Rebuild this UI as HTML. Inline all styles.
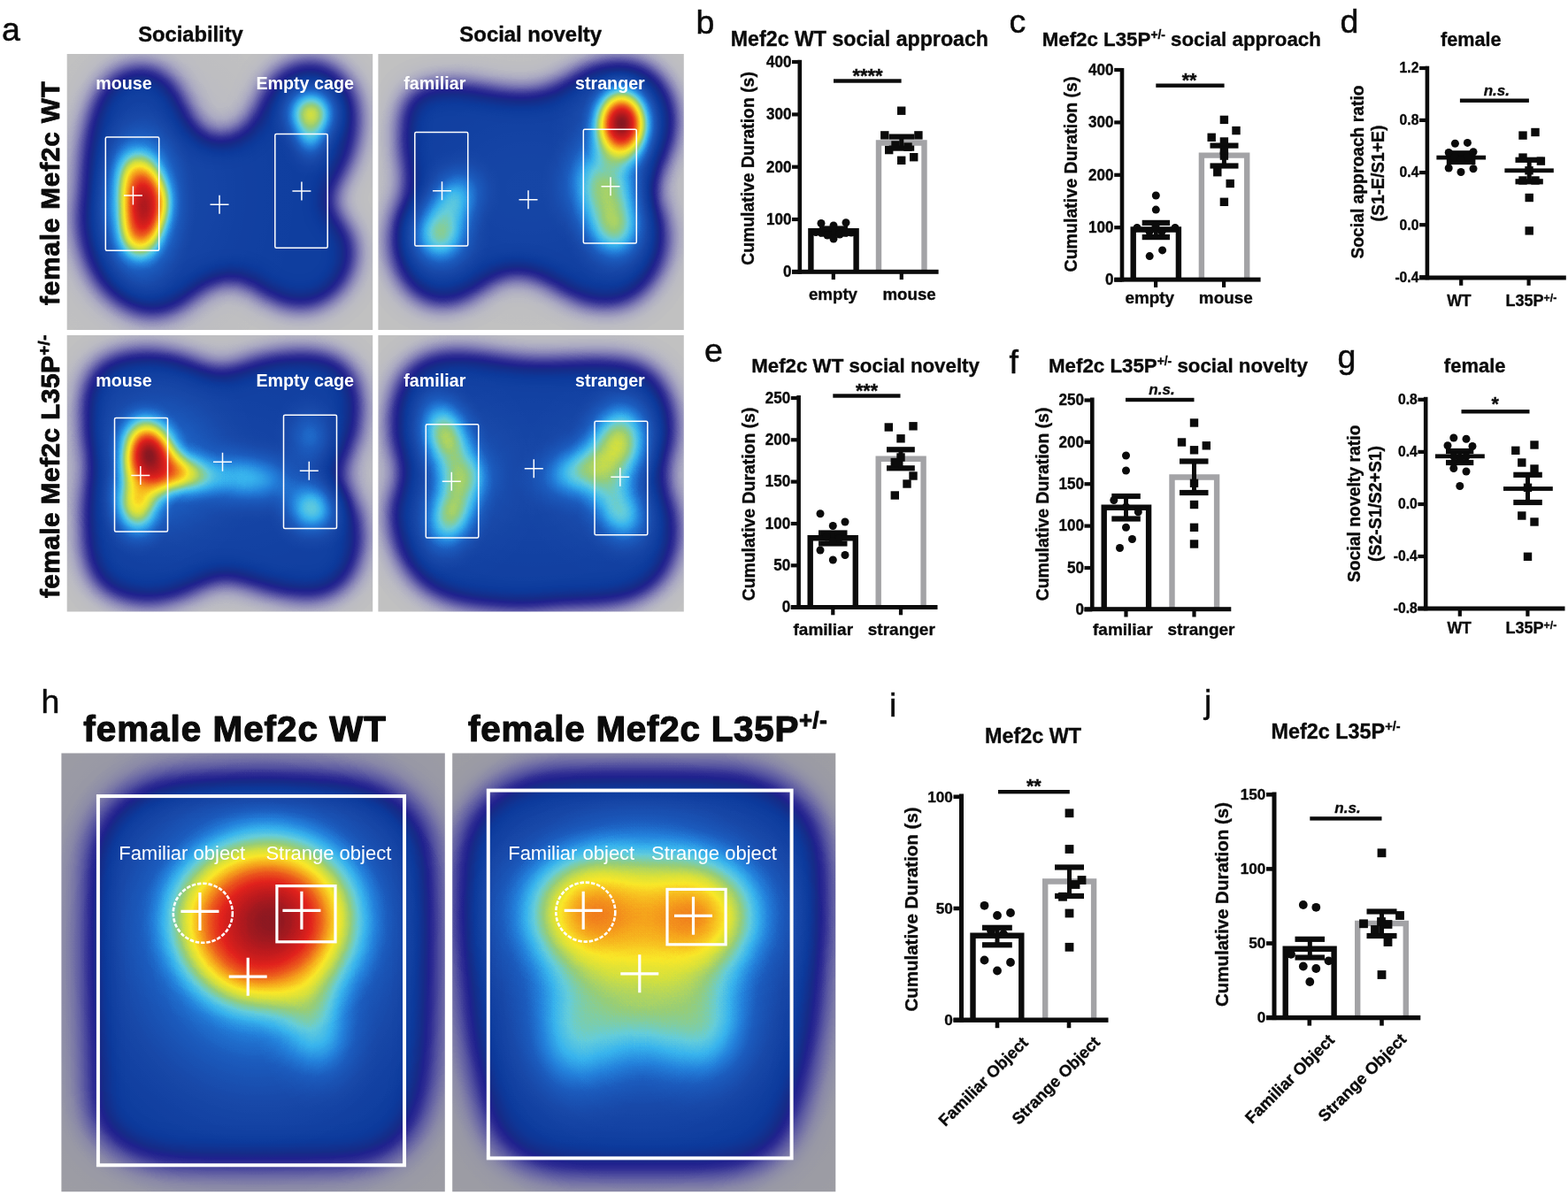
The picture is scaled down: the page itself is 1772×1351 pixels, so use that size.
<!DOCTYPE html>
<html lang="en"><head><meta charset="utf-8"><title>Figure</title>
<style>html,body{margin:0;padding:0;background:#fff}svg{display:block}text{font-family:"Liberation Sans",sans-serif}</style>
</head><body>
<svg width="1772" height="1351" viewBox="0 0 1772 1351">
<defs>
<filter id="jet" x="0" y="0" width="100%" height="100%" filterUnits="objectBoundingBox" color-interpolation-filters="sRGB"><feComponentTransfer><feFuncR type="table" tableValues="0.757 0.745 0.733 0.711 0.689 0.667 0.633 0.600 0.567 0.533 0.492 0.451 0.410 0.369 0.327 0.286 0.245 0.204 0.178 0.152 0.125 0.112 0.099 0.086 0.078 0.071 0.063 0.055 0.047 0.055 0.063 0.071 0.078 0.086 0.094 0.097 0.099 0.102 0.105 0.107 0.110 0.116 0.122 0.129 0.135 0.141 0.157 0.173 0.188 0.204 0.220 0.263 0.306 0.349 0.392 0.431 0.471 0.510 0.549 0.588 0.639 0.690 0.741 0.792 0.843 0.877 0.912 0.946 0.980 0.978 0.975 0.973 0.970 0.967 0.965 0.958 0.952 0.945 0.939 0.932 0.925 0.919 0.912 0.906 0.899 0.893 0.886 0.863 0.840 0.817 0.794 0.771 0.748 0.725 0.695 0.664 0.633 0.602 0.571 0.541 0.510"/><feFuncG type="table" tableValues="0.757 0.745 0.733 0.710 0.686 0.663 0.627 0.592 0.557 0.522 0.479 0.437 0.395 0.353 0.314 0.275 0.235 0.196 0.175 0.154 0.133 0.146 0.159 0.173 0.184 0.195 0.205 0.216 0.227 0.237 0.246 0.255 0.264 0.273 0.282 0.295 0.308 0.322 0.335 0.348 0.361 0.391 0.420 0.450 0.480 0.510 0.549 0.588 0.627 0.667 0.706 0.730 0.755 0.779 0.804 0.804 0.804 0.804 0.804 0.804 0.820 0.835 0.851 0.867 0.882 0.889 0.896 0.903 0.910 0.866 0.822 0.778 0.735 0.691 0.647 0.598 0.549 0.500 0.451 0.402 0.353 0.316 0.280 0.243 0.207 0.170 0.133 0.129 0.124 0.120 0.115 0.111 0.106 0.102 0.101 0.100 0.099 0.097 0.096 0.095 0.094"/><feFuncB type="table" tableValues="0.757 0.761 0.765 0.763 0.762 0.761 0.751 0.741 0.731 0.722 0.706 0.690 0.675 0.659 0.641 0.624 0.606 0.588 0.578 0.567 0.557 0.549 0.541 0.533 0.549 0.565 0.580 0.596 0.612 0.620 0.627 0.635 0.643 0.651 0.659 0.673 0.688 0.702 0.716 0.731 0.745 0.769 0.792 0.816 0.839 0.863 0.877 0.891 0.905 0.919 0.933 0.916 0.898 0.880 0.863 0.784 0.706 0.627 0.549 0.471 0.424 0.376 0.329 0.282 0.235 0.216 0.196 0.176 0.157 0.149 0.141 0.133 0.125 0.118 0.110 0.110 0.110 0.110 0.110 0.110 0.110 0.110 0.110 0.110 0.110 0.110 0.110 0.111 0.112 0.113 0.114 0.115 0.117 0.118 0.120 0.122 0.124 0.127 0.129 0.131 0.133"/></feComponentTransfer></filter>
<filter id="jet2" x="0" y="0" width="100%" height="100%" filterUnits="objectBoundingBox" color-interpolation-filters="sRGB"><feComponentTransfer><feFuncR type="table" tableValues="0.620 0.608 0.596 0.578 0.559 0.541 0.514 0.486 0.459 0.431 0.402 0.373 0.343 0.314 0.282 0.251 0.220 0.188 0.167 0.146 0.125 0.112 0.099 0.086 0.078 0.071 0.063 0.055 0.047 0.055 0.063 0.071 0.078 0.086 0.094 0.097 0.099 0.102 0.105 0.107 0.110 0.116 0.122 0.129 0.135 0.141 0.157 0.173 0.188 0.204 0.220 0.263 0.306 0.349 0.392 0.431 0.471 0.510 0.549 0.588 0.639 0.690 0.741 0.792 0.843 0.877 0.912 0.946 0.980 0.978 0.975 0.973 0.970 0.967 0.965 0.958 0.952 0.945 0.939 0.932 0.925 0.919 0.912 0.906 0.899 0.893 0.886 0.863 0.840 0.817 0.794 0.771 0.748 0.725 0.695 0.664 0.633 0.602 0.571 0.541 0.510"/><feFuncG type="table" tableValues="0.620 0.608 0.596 0.576 0.557 0.537 0.509 0.480 0.452 0.424 0.394 0.365 0.335 0.306 0.275 0.243 0.212 0.180 0.165 0.149 0.133 0.146 0.159 0.173 0.184 0.195 0.205 0.216 0.227 0.237 0.246 0.255 0.264 0.273 0.282 0.295 0.308 0.322 0.335 0.348 0.361 0.391 0.420 0.450 0.480 0.510 0.549 0.588 0.627 0.667 0.706 0.730 0.755 0.779 0.804 0.804 0.804 0.804 0.804 0.804 0.820 0.835 0.851 0.867 0.882 0.889 0.896 0.903 0.910 0.866 0.822 0.778 0.735 0.691 0.647 0.598 0.549 0.500 0.451 0.402 0.353 0.316 0.280 0.243 0.207 0.170 0.133 0.129 0.124 0.120 0.115 0.111 0.106 0.102 0.101 0.100 0.099 0.097 0.096 0.095 0.094"/><feFuncB type="table" tableValues="0.643 0.647 0.651 0.654 0.656 0.659 0.657 0.655 0.653 0.651 0.644 0.637 0.630 0.624 0.613 0.602 0.591 0.580 0.573 0.565 0.557 0.549 0.541 0.533 0.549 0.565 0.580 0.596 0.612 0.620 0.627 0.635 0.643 0.651 0.659 0.673 0.688 0.702 0.716 0.731 0.745 0.769 0.792 0.816 0.839 0.863 0.877 0.891 0.905 0.919 0.933 0.916 0.898 0.880 0.863 0.784 0.706 0.627 0.549 0.471 0.424 0.376 0.329 0.282 0.235 0.216 0.196 0.176 0.157 0.149 0.141 0.133 0.125 0.118 0.110 0.110 0.110 0.110 0.110 0.110 0.110 0.110 0.110 0.110 0.110 0.110 0.110 0.111 0.112 0.113 0.114 0.115 0.117 0.118 0.120 0.122 0.124 0.127 0.129 0.131 0.133"/></feComponentTransfer></filter>
<radialGradient id="gg" cx="0.5" cy="0.5" r="0.5" gradientUnits="objectBoundingBox"><stop offset="0.000" stop-color="#fff" stop-opacity="1.000"/><stop offset="0.083" stop-color="#fff" stop-opacity="0.976"/><stop offset="0.167" stop-color="#fff" stop-opacity="0.907"/><stop offset="0.250" stop-color="#fff" stop-opacity="0.803"/><stop offset="0.333" stop-color="#fff" stop-opacity="0.676"/><stop offset="0.417" stop-color="#fff" stop-opacity="0.540"/><stop offset="0.500" stop-color="#fff" stop-opacity="0.409"/><stop offset="0.583" stop-color="#fff" stop-opacity="0.293"/><stop offset="0.667" stop-color="#fff" stop-opacity="0.195"/><stop offset="0.750" stop-color="#fff" stop-opacity="0.119"/><stop offset="0.833" stop-color="#fff" stop-opacity="0.064"/><stop offset="0.917" stop-color="#fff" stop-opacity="0.025"/><stop offset="1.000" stop-color="#fff" stop-opacity="0.000"/></radialGradient>
<filter id="bla1" x="-20%" y="-20%" width="140%" height="140%" color-interpolation-filters="sRGB"><feGaussianBlur stdDeviation="16"/></filter>
<filter id="bla2" x="-20%" y="-20%" width="140%" height="140%" color-interpolation-filters="sRGB"><feGaussianBlur stdDeviation="16"/></filter>
<filter id="bla3" x="-20%" y="-20%" width="140%" height="140%" color-interpolation-filters="sRGB"><feGaussianBlur stdDeviation="16"/></filter>
<filter id="bla4" x="-20%" y="-20%" width="140%" height="140%" color-interpolation-filters="sRGB"><feGaussianBlur stdDeviation="16"/></filter>
<filter id="blh1" x="-20%" y="-20%" width="140%" height="140%" color-interpolation-filters="sRGB"><feGaussianBlur stdDeviation="20"/></filter>
<filter id="blh2" x="-20%" y="-20%" width="140%" height="140%" color-interpolation-filters="sRGB"><feGaussianBlur stdDeviation="20"/></filter>
</defs>
<rect width="1772" height="1351" fill="#fff"/>
<clipPath id="cpa1"><rect x="75.7" y="60.9" width="345.5" height="312.0"/></clipPath>
<g clip-path="url(#cpa1)"><g filter="url(#jet)">
<rect x="35.7" y="20.9" width="425.5" height="392.0" fill="#000"/>
<g filter="url(#bla1)" fill="rgb(76,76,76)" stroke="rgb(76,76,76)" stroke-width="2" stroke-linejoin="round">
<path d="M140.6,80.5C148.3,77.8 159.7,76.3 167.5,77.4C175.2,78.4 181.4,81.8 187.0,86.6C192.6,91.4 197.0,98.4 201.2,106.2C205.3,113.9 207.3,124.9 211.9,133.0C216.5,141.2 221.3,150.7 228.5,155.0C235.8,159.3 246.8,160.3 255.4,158.7C263.9,157.0 273.7,151.1 279.8,145.2C285.9,139.3 287.9,131.8 292.0,123.3C296.1,114.7 298.9,101.7 304.2,94.0C309.5,86.2 315.6,80.9 323.8,76.9C331.9,72.8 344.5,69.5 353.1,69.5C361.6,69.5 367.8,72.0 375.0,76.9C382.3,81.7 391.7,89.1 396.5,98.8C401.3,108.6 403.9,122.5 403.9,135.5C403.8,148.5 399.8,165.2 396.0,177.0C392.3,188.8 385.6,198.2 381.4,206.3C377.2,214.4 371.1,219.7 370.6,225.8C370.2,231.9 374.7,236.4 378.9,242.9C383.2,249.4 392.7,256.4 396.0,264.9C399.4,273.5 400.9,284.0 399.0,294.2C397.0,304.4 392.0,317.3 384.3,326.0C376.7,334.6 364.4,343.1 353.1,346.0C341.7,348.8 326.6,346.0 316.4,343.1C306.3,340.1 300.1,333.3 292.0,328.4C283.9,323.5 277.8,314.8 267.6,313.8C257.4,312.7 241.1,317.4 231.0,322.3C220.8,327.2 213.9,338.0 206.5,343.1C199.2,348.1 195.1,351.1 187.0,352.8C178.9,354.5 168.7,357.0 157.7,353.3C146.7,349.7 130.8,340.7 121.1,330.9C111.3,321.0 104.3,308.5 99.1,294.2C93.9,280.0 90.6,257.6 89.8,245.4C89.0,233.2 93.1,233.2 94.2,221.0C95.3,208.7 94.6,188.4 96.6,172.1C98.7,155.8 102.3,136.3 106.4,123.3C110.5,110.2 115.4,101.1 121.1,94.0C126.8,86.8 132.9,83.3 140.6,80.5Z"/>
</g>
<ellipse cx="159" cy="230" rx="62" ry="116" fill="url(#gg)" opacity="0.58"/>
<ellipse cx="163" cy="234" rx="34" ry="70" fill="url(#gg)" opacity="0.78"/>
<ellipse cx="151" cy="200" rx="32" ry="50" transform="rotate(-12 151 200)" fill="url(#gg)" opacity="0.2"/>
<ellipse cx="153" cy="264" rx="32" ry="46" transform="rotate(12 153 264)" fill="url(#gg)" opacity="0.22"/>
<ellipse cx="177" cy="228" rx="32" ry="44" fill="url(#gg)" opacity="0.18"/>
<ellipse cx="351.4" cy="127.7" rx="48.8" ry="48.8" fill="url(#gg)" opacity="0.46"/>
<ellipse cx="350.6" cy="157.5" rx="34.2" ry="44.0" fill="url(#gg)" opacity="0.2"/>
<ellipse cx="182.1" cy="221.0" rx="171.0" ry="219.8" fill="url(#gg)" opacity="0.06"/>
</g></g>
<clipPath id="cpa2"><rect x="427.4" y="60.9" width="345.4" height="312.0"/></clipPath>
<g clip-path="url(#cpa2)"><g filter="url(#jet)">
<rect x="387.4" y="20.9" width="425.4" height="392.0" fill="#000"/>
<g filter="url(#bla2)" fill="rgb(76,76,76)" stroke="rgb(76,76,76)" stroke-width="2" stroke-linejoin="round">
<path d="M467.5,103.8C474.0,100.2 487.1,97.3 497.5,96.2C507.9,95.2 519.6,96.2 530.0,97.5C540.4,98.8 550.4,102.2 560.0,103.8C569.6,105.3 577.9,107.0 587.5,107.0C597.1,107.0 608.3,106.6 617.5,103.8C626.7,100.9 634.2,94.6 642.5,90.0C650.8,85.4 657.9,79.4 667.5,76.2C677.1,73.1 689.6,71.0 700.0,71.2C710.4,71.5 721.7,73.1 730.0,77.5C738.3,81.9 745.0,89.6 750.0,97.5C755.0,105.4 758.8,115.4 760.0,125.0C761.2,134.6 759.8,145.4 757.5,155.0C755.2,164.6 749.6,174.2 746.2,182.5C742.9,190.8 739.0,198.8 737.5,205.0C736.0,211.2 735.6,213.3 737.5,220.0C739.4,226.7 746.2,235.8 748.8,245.0C751.2,254.2 754.0,263.8 752.5,275.0C751.0,286.2 746.7,301.7 740.0,312.5C733.3,323.3 722.5,334.6 712.5,340.0C702.5,345.4 690.4,345.4 680.0,345.0C669.6,344.6 660.0,341.9 650.0,337.5C640.0,333.1 629.6,323.8 620.0,318.8C610.4,313.8 602.5,308.5 592.5,307.5C582.5,306.5 569.6,308.3 560.0,312.5C550.4,316.7 544.2,327.3 535.0,332.5C525.8,337.7 515.0,342.9 505.0,343.8C495.0,344.6 483.8,342.7 475.0,337.5C466.2,332.3 457.9,322.9 452.5,312.5C447.1,302.1 443.1,287.1 442.5,275.0C441.9,262.9 445.8,249.2 448.8,240.0C451.7,230.8 457.9,226.7 460.0,220.0C462.1,213.3 462.1,208.3 461.2,200.0C460.4,191.7 456.0,180.4 455.0,170.0C454.0,159.6 454.4,146.2 455.0,137.5C455.6,128.8 456.7,123.1 458.8,117.5C460.8,111.9 461.0,107.3 467.5,103.8Z"/>
</g>
<ellipse cx="702.5" cy="140.0" rx="46.2" ry="61.2" fill="url(#gg)" opacity="1.0"/>
<ellipse cx="702.5" cy="145.0" rx="82.5" ry="100.0" fill="url(#gg)" opacity="0.2"/>
<ellipse cx="681.2" cy="210.0" rx="70.0" ry="80.0" fill="url(#gg)" opacity="0.36"/>
<ellipse cx="695.0" cy="257.5" rx="57.5" ry="67.5" fill="url(#gg)" opacity="0.36"/>
<ellipse cx="497.5" cy="265.0" rx="57.5" ry="62.5" fill="url(#gg)" opacity="0.37"/>
<ellipse cx="515.0" cy="222.5" rx="50.0" ry="57.5" transform="rotate(30 515.0 222.5)" fill="url(#gg)" opacity="0.26"/>
<ellipse cx="597.5" cy="212.5" rx="225.0" ry="175.0" fill="url(#gg)" opacity="0.05"/>
</g></g>
<clipPath id="cpa3"><rect x="75.7" y="379.1" width="345.5" height="312.3"/></clipPath>
<g clip-path="url(#cpa3)"><g filter="url(#jet)">
<rect x="35.7" y="339.1" width="425.5" height="392.3" fill="#000"/>
<g filter="url(#bla3)" fill="rgb(76,76,76)" stroke="rgb(76,76,76)" stroke-width="0" stroke-linejoin="round">
<path d="M112.5,410.5C119.6,405.7 131.2,401.3 142.5,399.2C153.8,397.2 167.5,396.5 180.0,398.0C192.5,399.5 205.8,404.2 217.5,408.0C229.2,411.8 239.6,420.3 250.0,420.5C260.4,420.7 268.8,412.6 280.0,409.2C291.2,405.9 305.0,402.2 317.5,400.5C330.0,398.8 343.8,398.0 355.0,399.2C366.2,400.5 377.1,402.8 385.0,408.0C392.9,413.2 399.0,420.5 402.5,430.5C406.0,440.5 406.7,456.8 406.2,468.0C405.8,479.2 403.1,488.8 400.0,498.0C396.9,507.2 390.4,516.3 387.5,523.0C384.6,529.7 381.5,532.2 382.5,538.0C383.5,543.8 389.6,548.8 393.8,558.0C397.9,567.2 405.6,580.9 407.5,593.0C409.4,605.1 407.9,619.2 405.0,630.5C402.1,641.8 397.5,653.0 390.0,660.5C382.5,668.0 372.1,673.6 360.0,675.5C347.9,677.4 330.8,674.2 317.5,671.8C304.2,669.2 291.2,663.6 280.0,660.5C268.8,657.4 260.4,651.8 250.0,653.0C239.6,654.2 229.2,663.4 217.5,668.0C205.8,672.6 192.5,678.8 180.0,680.5C167.5,682.2 153.8,680.9 142.5,678.0C131.2,675.1 120.0,670.9 112.5,663.0C105.0,655.1 100.2,642.2 97.5,630.5C94.8,618.8 95.8,605.5 96.2,593.0C96.7,580.5 98.0,565.9 100.0,555.5C102.0,545.1 108.0,540.1 108.0,530.5C108.0,520.9 102.2,510.5 100.0,498.0C97.8,485.5 95.0,467.2 95.0,455.5C95.0,443.8 97.1,435.5 100.0,428.0C102.9,420.5 105.4,415.3 112.5,410.5Z"/>
</g>
<ellipse cx="168.8" cy="515.5" rx="46.2" ry="65.0" transform="rotate(-12 168.8 515.5)" fill="url(#gg)" opacity="1.0"/>
<ellipse cx="195.0" cy="533.0" rx="72.5" ry="37.5" transform="rotate(10 195.0 533.0)" fill="url(#gg)" opacity="0.5"/>
<ellipse cx="155.0" cy="568.0" rx="42.5" ry="62.5" fill="url(#gg)" opacity="0.48"/>
<ellipse cx="175.0" cy="523.0" rx="120.0" ry="130.0" fill="url(#gg)" opacity="0.2"/>
<ellipse cx="280.0" cy="540.5" rx="100.0" ry="50.0" transform="rotate(5 280.0 540.5)" fill="url(#gg)" opacity="0.25"/>
<ellipse cx="352.5" cy="575.5" rx="50.0" ry="50.0" fill="url(#gg)" opacity="0.32"/>
<ellipse cx="350.0" cy="493.0" rx="42.5" ry="55.0" fill="url(#gg)" opacity="0.15"/>
<ellipse cx="250.0" cy="538.0" rx="275.0" ry="200.0" fill="url(#gg)" opacity="0.05"/>
</g></g>
<clipPath id="cpa4"><rect x="427.4" y="379.1" width="345.4" height="312.3"/></clipPath>
<g clip-path="url(#cpa4)"><g filter="url(#jet)">
<rect x="387.4" y="339.1" width="425.4" height="392.3" fill="#000"/>
<g filter="url(#bla4)" fill="rgb(76,76,76)" stroke="rgb(76,76,76)" stroke-width="1" stroke-linejoin="round">
<path d="M467.5,411.8C473.8,407.6 482.1,402.6 492.5,400.5C502.9,398.4 517.5,398.4 530.0,399.2C542.5,400.1 555.0,403.8 567.5,405.5C580.0,407.2 592.5,408.8 605.0,409.2C617.5,409.7 630.0,408.4 642.5,408.0C655.0,407.6 667.5,406.3 680.0,406.8C692.5,407.2 707.1,407.4 717.5,410.5C727.9,413.6 735.8,418.0 742.5,425.5C749.2,433.0 754.4,445.1 757.5,455.5C760.6,465.9 762.1,477.6 761.2,488.0C760.4,498.4 755.1,509.7 752.5,518.0C749.9,526.3 745.1,530.5 745.5,538.0C745.9,545.5 751.8,553.8 755.0,563.0C758.2,572.2 764.2,581.8 765.0,593.0C765.8,604.2 763.8,619.2 760.0,630.5C756.2,641.8 750.8,652.6 742.5,660.5C734.2,668.4 722.5,674.2 710.0,678.0C697.5,681.8 680.8,682.0 667.5,683.0C654.2,684.0 642.5,683.4 630.0,684.2C617.5,685.1 605.0,687.8 592.5,688.0C580.0,688.2 567.5,686.8 555.0,685.5C542.5,684.2 529.2,683.4 517.5,680.5C505.8,677.6 494.6,674.2 485.0,668.0C475.4,661.8 466.2,652.2 460.0,643.0C453.8,633.8 450.4,623.4 447.5,613.0C444.6,602.6 442.1,590.1 442.5,580.5C442.9,570.9 446.9,563.0 450.0,555.5C453.1,548.0 461.2,542.6 461.2,535.5C461.2,528.4 453.1,522.2 450.0,513.0C446.9,503.8 443.1,491.3 442.5,480.5C441.9,469.7 444.2,457.2 446.2,448.0C448.3,438.8 451.5,431.5 455.0,425.5C458.5,419.5 461.2,415.9 467.5,411.8Z"/>
</g>
<ellipse cx="503.8" cy="493.0" rx="47.5" ry="75.0" transform="rotate(-18 503.8 493.0)" fill="url(#gg)" opacity="0.39"/>
<ellipse cx="525.0" cy="538.0" rx="50.0" ry="50.0" fill="url(#gg)" opacity="0.22"/>
<ellipse cx="510.0" cy="580.5" rx="47.5" ry="72.5" transform="rotate(18 510.0 580.5)" fill="url(#gg)" opacity="0.37"/>
<ellipse cx="515.0" cy="538.0" rx="105.0" ry="130.0" fill="url(#gg)" opacity="0.1"/>
<ellipse cx="700.0" cy="495.5" rx="57.5" ry="72.5" transform="rotate(12 700.0 495.5)" fill="url(#gg)" opacity="0.39"/>
<ellipse cx="662.5" cy="530.5" rx="85.0" ry="50.0" transform="rotate(-15 662.5 530.5)" fill="url(#gg)" opacity="0.3"/>
<ellipse cx="702.5" cy="580.5" rx="50.0" ry="62.5" transform="rotate(-20 702.5 580.5)" fill="url(#gg)" opacity="0.28"/>
<ellipse cx="683.8" cy="553.0" rx="47.5" ry="47.5" fill="url(#gg)" opacity="0.1"/>
<ellipse cx="685.0" cy="538.0" rx="105.0" ry="120.0" fill="url(#gg)" opacity="0.1"/>
<ellipse cx="602.5" cy="538.0" rx="275.0" ry="200.0" fill="url(#gg)" opacity="0.05"/>
</g></g>
<clipPath id="cph1"><rect x="69.4" y="851.6" width="433.4" height="495.7"/></clipPath>
<g clip-path="url(#cph1)"><g filter="url(#jet2)">
<rect x="29.400000000000006" y="811.6" width="513.4" height="575.7" fill="#000"/>
<g filter="url(#blh1)" fill="rgb(69,69,69)" stroke="rgb(69,69,69)" stroke-width="0" stroke-linejoin="round">
<path d="M203,881H387A100,85 0 0 1 487,966V1180C487,1220 480,1250 470,1272Q450,1316 386,1316H203A100,65 0 0 1 103,1251V971A100,90 0 0 1 203,881Z"/>
</g>
<ellipse cx="306" cy="1041" rx="141" ry="134" fill="url(#gg)" opacity="0.97"/>
<ellipse cx="247" cy="1040" rx="95" ry="100" fill="url(#gg)" opacity="0.22"/>
<ellipse cx="282" cy="1082" rx="90" ry="80" fill="url(#gg)" opacity="0.25"/>
<ellipse cx="356" cy="1160" rx="70" ry="105" transform="rotate(-15 356 1160)" fill="url(#gg)" opacity="0.2"/>
<ellipse cx="297" cy="1068" rx="225" ry="235" fill="url(#gg)" opacity="0.25"/>
<ellipse cx="300" cy="1015" rx="210" ry="160" fill="url(#gg)" opacity="0.22"/>
<ellipse cx="290" cy="1080" rx="340" ry="380" fill="url(#gg)" opacity="0.15"/>
</g></g>
<clipPath id="cph2"><rect x="511.2" y="851.6" width="433.1" height="495.7"/></clipPath>
<g clip-path="url(#cph2)"><g filter="url(#jet2)">
<rect x="471.2" y="811.6" width="513.1" height="575.7" fill="#000"/>
<g filter="url(#blh2)" fill="rgb(70,70,70)" stroke="rgb(70,70,70)" stroke-width="0" stroke-linejoin="round">
<path d="M632,871H820A110,90 0 0 1 930,961L930,1050C930,1150 915,1230 895,1275Q875,1324 800,1324H650Q575,1324 553,1275C535,1230 522,1150 522,1050L522,961A110,90 0 0 1 632,871Z"/>
</g>
<ellipse cx="664.9" cy="1032.3" rx="108.7" ry="101.2" fill="url(#gg)" opacity="0.41"/>
<ellipse cx="788.5" cy="1036.1" rx="108.7" ry="101.2" fill="url(#gg)" opacity="0.41"/>
<ellipse cx="724.8" cy="1036.1" rx="254.8" ry="153.6" fill="url(#gg)" opacity="0.2"/>
<ellipse cx="722" cy="1005" rx="270" ry="150" fill="url(#gg)" opacity="0.22"/>
<ellipse cx="724.8" cy="1099.8" rx="224.8" ry="217.3" fill="url(#gg)" opacity="0.31"/>
<ellipse cx="646.1" cy="1174.7" rx="89.9" ry="123.6" fill="url(#gg)" opacity="0.2"/>
<ellipse cx="799.7" cy="1163.5" rx="89.9" ry="112.4" fill="url(#gg)" opacity="0.2"/>
<ellipse cx="724.8" cy="1144.7" rx="112.4" ry="112.4" fill="url(#gg)" opacity="0.12"/>
<ellipse cx="724.8" cy="1107.3" rx="337.2" ry="374.7" fill="url(#gg)" opacity="0.08"/>
</g></g>
<rect x="119.3" y="155.0" width="60.4" height="128.2" rx="1.5" fill="none" stroke="#fff" stroke-width="1.5"/>
<rect x="310.8" y="151.4" width="59.4" height="128.9" rx="1.5" fill="none" stroke="#fff" stroke-width="1.5"/>
<path d="M139.9,221.0H160.9M150.4,210.5V231.5" stroke="#fff" stroke-width="1.5" fill="none"/>
<path d="M237.5,231.2H258.5M248.0,220.7V241.7" stroke="#fff" stroke-width="1.5" fill="none"/>
<path d="M330.4,216.0H351.4M340.9,205.5V226.5" stroke="#fff" stroke-width="1.5" fill="none"/>
<text x="108.2" y="100.8" font-size="19.7" font-weight="bold" text-anchor="start" fill="#fff">mouse</text>
<text x="289.4" y="100.8" font-size="19.7" font-weight="bold" text-anchor="start" fill="#fff">Empty cage</text>
<rect x="468.8" y="149.5" width="60.0" height="128.5" rx="1.5" fill="none" stroke="#fff" stroke-width="1.5"/>
<rect x="659.3" y="146.3" width="60.0" height="128.7" rx="1.5" fill="none" stroke="#fff" stroke-width="1.5"/>
<path d="M489.0,215.8H510.0M499.5,205.3V226.3" stroke="#fff" stroke-width="1.5" fill="none"/>
<path d="M586.5,225.8H607.5M597.0,215.3V236.3" stroke="#fff" stroke-width="1.5" fill="none"/>
<path d="M679.5,210.8H700.5M690.0,200.3V221.3" stroke="#fff" stroke-width="1.5" fill="none"/>
<text x="456.3" y="100.8" font-size="19.7" font-weight="bold" text-anchor="start" fill="#fff">familiar</text>
<text x="650.0" y="100.8" font-size="19.7" font-weight="bold" text-anchor="start" fill="#fff">stranger</text>
<rect x="129.5" y="472.5" width="60.0" height="128.5" rx="1.5" fill="none" stroke="#fff" stroke-width="1.5"/>
<rect x="320.5" y="469.3" width="60.0" height="128.2" rx="1.5" fill="none" stroke="#fff" stroke-width="1.5"/>
<path d="M148.3,537.5H169.3M158.8,527.0V548.0" stroke="#fff" stroke-width="1.5" fill="none"/>
<path d="M241.0,522.3H262.0M251.5,511.8V532.8" stroke="#fff" stroke-width="1.5" fill="none"/>
<path d="M338.8,532.3H359.8M349.3,521.8V542.8" stroke="#fff" stroke-width="1.5" fill="none"/>
<text x="108.2" y="436.8" font-size="19.7" font-weight="bold" text-anchor="start" fill="#fff">mouse</text>
<text x="289.4" y="436.8" font-size="19.7" font-weight="bold" text-anchor="start" fill="#fff">Empty cage</text>
<rect x="481.3" y="479.8" width="59.5" height="128.2" rx="1.5" fill="none" stroke="#fff" stroke-width="1.5"/>
<rect x="672.0" y="476.3" width="59.8" height="128.5" rx="1.5" fill="none" stroke="#fff" stroke-width="1.5"/>
<path d="M499.8,544.3H520.8M510.3,533.8V554.8" stroke="#fff" stroke-width="1.5" fill="none"/>
<path d="M592.8,529.8H613.8M603.3,519.3V540.3" stroke="#fff" stroke-width="1.5" fill="none"/>
<path d="M690.3,539.3H711.3M700.8,528.8V549.8" stroke="#fff" stroke-width="1.5" fill="none"/>
<text x="456.3" y="436.8" font-size="19.7" font-weight="bold" text-anchor="start" fill="#fff">familiar</text>
<text x="650.0" y="436.8" font-size="19.7" font-weight="bold" text-anchor="start" fill="#fff">stranger</text>
<rect x="110.9" y="900.1" width="346.1" height="417.2" rx="0" fill="none" stroke="#fff" stroke-width="4.0"/>
<rect x="312.9" y="1001.6" width="66.1" height="63.2" rx="0" fill="none" stroke="#fff" stroke-width="3.2"/>
<circle cx="229.3" cy="1032.3" r="33.5" fill="none" stroke="#fff" stroke-width="2.6" stroke-dasharray="4.5 1.8"/>
<path d="M204.4,1030.4H247.4M225.9,1008.9V1051.9" stroke="#fff" stroke-width="3.2" fill="none"/>
<path d="M319.4,1029.3H362.4M340.9,1007.8V1050.8" stroke="#fff" stroke-width="3.2" fill="none"/>
<path d="M258.7,1104.2H301.7M280.2,1082.7V1125.7" stroke="#fff" stroke-width="3.2" fill="none"/>
<text x="134.2" y="972.3" font-size="22" font-weight="normal" text-anchor="start" fill="#fff">Familiar object</text>
<text x="300.4" y="972.3" font-size="22" font-weight="normal" text-anchor="start" fill="#fff">Strange object</text>
<rect x="551.8" y="893.6" width="342.8" height="415.8" rx="0" fill="none" stroke="#fff" stroke-width="4.0"/>
<rect x="754.0" y="1005.4" width="66.1" height="62.4" rx="0" fill="none" stroke="#fff" stroke-width="3.2"/>
<circle cx="661.8" cy="1031.1" r="33.5" fill="none" stroke="#fff" stroke-width="2.6" stroke-dasharray="4.5 1.8"/>
<path d="M637.7,1029.3H680.7M659.2,1007.8V1050.8" stroke="#fff" stroke-width="3.2" fill="none"/>
<path d="M762.0,1035.3H805.0M783.5,1013.8V1056.8" stroke="#fff" stroke-width="3.2" fill="none"/>
<path d="M701.3,1100.8H744.3M722.8,1079.3V1122.3" stroke="#fff" stroke-width="3.2" fill="none"/>
<text x="574.2" y="972.3" font-size="22" font-weight="normal" text-anchor="start" fill="#fff">Familiar object</text>
<text x="736.0" y="972.3" font-size="22" font-weight="normal" text-anchor="start" fill="#fff">Strange object</text>
<text x="2.0" y="45.8" font-size="37.5" font-weight="normal" text-anchor="start" fill="#0b0b0b" stroke="#0b0b0b" stroke-width="0.5" stroke-linejoin="round">a</text>
<text x="215.5" y="46.6" font-size="23.7" font-weight="bold" text-anchor="middle" fill="#0b0b0b" stroke="#0b0b0b" stroke-width="0.4" stroke-linejoin="round">Sociability</text>
<text x="599.7" y="46.6" font-size="23.9" font-weight="bold" text-anchor="middle" fill="#0b0b0b" stroke="#0b0b0b" stroke-width="0.4" stroke-linejoin="round">Social novelty</text>
<text x="67.3" y="218.2" font-size="29.8" font-weight="bold" text-anchor="middle" fill="#0b0b0b" stroke="#0b0b0b" stroke-width="0.8" stroke-linejoin="round" letter-spacing="0.8" transform="rotate(-90 67.3 218.2)">female Mef2c WT</text>
<text x="67.3" y="676.0" font-size="29.8" font-weight="bold" text-anchor="start" fill="#0b0b0b" stroke="#0b0b0b" stroke-width="0.8" stroke-linejoin="round" letter-spacing="0.45" transform="rotate(-90 67.3 676.0)">female Mef2c L35P<tspan font-size="18.5" dy="-11.3">+/-</tspan></text>
<text x="46.5" y="806.2" font-size="37.5" font-weight="normal" text-anchor="start" fill="#0b0b0b" stroke="#0b0b0b" stroke-width="0.5" stroke-linejoin="round">h</text>
<text x="94.3" y="838.4" font-size="40.4" font-weight="bold" text-anchor="start" fill="#0b0b0b" stroke="#0b0b0b" stroke-width="1.2" stroke-linejoin="round" letter-spacing="1.0">female Mef2c WT</text>
<text x="529.0" y="838.0" font-size="40.4" font-weight="bold" text-anchor="start" fill="#0b0b0b" stroke="#0b0b0b" stroke-width="1.2" stroke-linejoin="round" letter-spacing="0.75">female Mef2c L35P<tspan font-size="25.0" dy="-15.4">+/-</tspan></text>
<path d="M916.4,307.3V261.3H967.6V307.3" fill="none" stroke="#0b0b0b" stroke-width="6.4"/>
<path d="M993.0,307.3V161.5H1044.5V307.3" fill="none" stroke="#a3a3a6" stroke-width="6.4"/>
<rect x="901.5" y="67.8" width="4.6" height="241.8" fill="#0b0b0b"/>
<rect x="895.0" y="304.8" width="165.6" height="5.0" fill="#0b0b0b"/>
<rect x="895.0" y="67.9" width="8.8" height="4.2" fill="#0b0b0b"/>
<text x="894.4" y="75.9" font-size="17.8" font-weight="bold" text-anchor="end" fill="#0b0b0b" stroke="#0b0b0b" stroke-width="0.35" transform="translate(35.78 0) scale(0.96 1)">400</text>
<rect x="895.0" y="127.3" width="8.8" height="4.2" fill="#0b0b0b"/>
<text x="894.4" y="135.3" font-size="17.8" font-weight="bold" text-anchor="end" fill="#0b0b0b" stroke="#0b0b0b" stroke-width="0.35" transform="translate(35.78 0) scale(0.96 1)">300</text>
<rect x="895.0" y="186.6" width="8.8" height="4.2" fill="#0b0b0b"/>
<text x="894.4" y="194.6" font-size="17.8" font-weight="bold" text-anchor="end" fill="#0b0b0b" stroke="#0b0b0b" stroke-width="0.35" transform="translate(35.78 0) scale(0.96 1)">200</text>
<rect x="895.0" y="245.9" width="8.8" height="4.2" fill="#0b0b0b"/>
<text x="894.4" y="253.9" font-size="17.8" font-weight="bold" text-anchor="end" fill="#0b0b0b" stroke="#0b0b0b" stroke-width="0.35" transform="translate(35.78 0) scale(0.96 1)">100</text>
<rect x="895.0" y="305.2" width="8.8" height="4.2" fill="#0b0b0b"/>
<text x="894.4" y="313.2" font-size="17.8" font-weight="bold" text-anchor="end" fill="#0b0b0b" stroke="#0b0b0b" stroke-width="0.35" transform="translate(35.78 0) scale(0.96 1)">0</text>
<rect x="939.7" y="307.3" width="4.2" height="8.8" fill="#0b0b0b"/>
<rect x="1016.7" y="307.3" width="4.2" height="8.8" fill="#0b0b0b"/>
<text x="971.4" y="52.0" font-size="23.2" font-weight="bold" text-anchor="middle" fill="#0b0b0b" stroke="#0b0b0b" stroke-width="0.35">Mef2c WT social approach</text>
<text x="852.0" y="190.5" font-size="19.4" font-weight="bold" text-anchor="middle" fill="#0b0b0b" stroke="#0b0b0b" stroke-width="0.35" transform="rotate(-90 852.0 190.5)">Cumulative Duration (s)</text>
<text x="980.5" y="92.5" font-size="22" font-weight="bold" text-anchor="middle" fill="#0b0b0b" stroke="#0b0b0b" stroke-width="0.35">****</text>
<text x="941.5" y="338.9" font-size="18.7" font-weight="bold" text-anchor="middle" fill="#0b0b0b" stroke="#0b0b0b" stroke-width="0.35">empty</text>
<text x="1027.6" y="338.9" font-size="18.7" font-weight="bold" text-anchor="middle" fill="#0b0b0b" stroke="#0b0b0b" stroke-width="0.35">mouse</text>
<text x="786.5" y="37.6" font-size="37.5" font-weight="normal" text-anchor="start" fill="#0b0b0b" stroke="#0b0b0b" stroke-width="0.5">b</text>
<rect x="926.0" y="255.4" width="32.0" height="6.2" fill="#0b0b0b"/><rect x="926.0" y="261.4" width="32.0" height="6.2" fill="#0b0b0b"/><rect x="939.3" y="258.5" width="5.0" height="6.0" fill="#0b0b0b"/>
<rect x="1004.7" y="151.5" width="28.5" height="6.2" fill="#0b0b0b"/><rect x="1004.7" y="164.5" width="28.5" height="6.2" fill="#0b0b0b"/><rect x="1016.3" y="154.6" width="5.0" height="13.0" fill="#0b0b0b"/>
<circle cx="928.0" cy="252.5" r="4.5" fill="#0b0b0b"/>
<circle cx="956.0" cy="251.7" r="4.5" fill="#0b0b0b"/>
<circle cx="942.0" cy="255.0" r="4.5" fill="#0b0b0b"/>
<circle cx="922.0" cy="262.5" r="4.5" fill="#0b0b0b"/>
<circle cx="962.0" cy="263.0" r="4.5" fill="#0b0b0b"/>
<circle cx="928.0" cy="263.0" r="4.5" fill="#0b0b0b"/>
<circle cx="935.0" cy="266.0" r="4.5" fill="#0b0b0b"/>
<circle cx="949.0" cy="265.0" r="4.5" fill="#0b0b0b"/>
<circle cx="956.0" cy="263.0" r="4.5" fill="#0b0b0b"/>
<circle cx="942.0" cy="270.0" r="4.5" fill="#0b0b0b"/>
<rect x="1014.0" y="120.5" width="9.4" height="9.4" fill="#0b0b0b"/>
<rect x="995.1" y="148.2" width="9.4" height="9.4" fill="#0b0b0b"/>
<rect x="1033.2" y="148.2" width="9.4" height="9.4" fill="#0b0b0b"/>
<rect x="1000.0" y="164.9" width="9.4" height="9.4" fill="#0b0b0b"/>
<rect x="1014.0" y="176.6" width="9.4" height="9.4" fill="#0b0b0b"/>
<rect x="1028.0" y="173.0" width="9.4" height="9.4" fill="#0b0b0b"/>
<rect x="1007.3" y="159.3" width="9.4" height="9.4" fill="#0b0b0b"/>
<rect x="1021.3" y="161.3" width="9.4" height="9.4" fill="#0b0b0b"/>
<rect x="942.0" y="89.3" width="76.6" height="4.4" fill="#0b0b0b"/>
<path d="M1280.7,316.1V259.5H1331.9V316.1" fill="none" stroke="#0b0b0b" stroke-width="6.4"/>
<path d="M1357.9,316.1V175.6H1409.2V316.1" fill="none" stroke="#a3a3a6" stroke-width="6.4"/>
<rect x="1265.7" y="77.0" width="4.6" height="241.4" fill="#0b0b0b"/>
<rect x="1259.2" y="313.6" width="165.4" height="5.0" fill="#0b0b0b"/>
<rect x="1259.2" y="76.9" width="8.8" height="4.2" fill="#0b0b0b"/>
<text x="1258.6" y="84.9" font-size="17.8" font-weight="bold" text-anchor="end" fill="#0b0b0b" stroke="#0b0b0b" stroke-width="0.35" transform="translate(50.34 0) scale(0.96 1)">400</text>
<rect x="1259.2" y="136.3" width="8.8" height="4.2" fill="#0b0b0b"/>
<text x="1258.6" y="144.3" font-size="17.8" font-weight="bold" text-anchor="end" fill="#0b0b0b" stroke="#0b0b0b" stroke-width="0.35" transform="translate(50.34 0) scale(0.96 1)">300</text>
<rect x="1259.2" y="195.7" width="8.8" height="4.2" fill="#0b0b0b"/>
<text x="1258.6" y="203.7" font-size="17.8" font-weight="bold" text-anchor="end" fill="#0b0b0b" stroke="#0b0b0b" stroke-width="0.35" transform="translate(50.34 0) scale(0.96 1)">200</text>
<rect x="1259.2" y="255.1" width="8.8" height="4.2" fill="#0b0b0b"/>
<text x="1258.6" y="263.1" font-size="17.8" font-weight="bold" text-anchor="end" fill="#0b0b0b" stroke="#0b0b0b" stroke-width="0.35" transform="translate(50.34 0) scale(0.96 1)">100</text>
<rect x="1259.2" y="314.4" width="8.8" height="4.2" fill="#0b0b0b"/>
<text x="1258.6" y="322.4" font-size="17.8" font-weight="bold" text-anchor="end" fill="#0b0b0b" stroke="#0b0b0b" stroke-width="0.35" transform="translate(50.34 0) scale(0.96 1)">0</text>
<rect x="1304.0" y="316.1" width="4.2" height="8.8" fill="#0b0b0b"/>
<rect x="1381.0" y="316.1" width="4.2" height="8.8" fill="#0b0b0b"/>
<text x="1177.7" y="52.0" font-size="22.3" font-weight="bold" text-anchor="start" fill="#0b0b0b" stroke="#0b0b0b" stroke-width="0.35">Mef2c L35P<tspan font-size="13.8" dy="-8.5">+/-</tspan><tspan dy="8.5" font-size="22.3">​</tspan> social approach</text>
<text x="1217.0" y="197.0" font-size="19.6" font-weight="bold" text-anchor="middle" fill="#0b0b0b" stroke="#0b0b0b" stroke-width="0.35" transform="rotate(-90 1217.0 197.0)">Cumulative Duration (s)</text>
<text x="1344.0" y="97.6" font-size="21.5" font-weight="bold" text-anchor="middle" fill="#0b0b0b" stroke="#0b0b0b" stroke-width="0.35">**</text>
<text x="1299.2" y="343.4" font-size="18.9" font-weight="bold" text-anchor="middle" fill="#0b0b0b" stroke="#0b0b0b" stroke-width="0.35">empty</text>
<text x="1385.3" y="343.4" font-size="18.9" font-weight="bold" text-anchor="middle" fill="#0b0b0b" stroke="#0b0b0b" stroke-width="0.35">mouse</text>
<text x="1140.5" y="37.2" font-size="37.5" font-weight="normal" text-anchor="start" fill="#0b0b0b" stroke="#0b0b0b" stroke-width="0.5">c</text>
<rect x="1290.7" y="248.8" width="31.3" height="6.2" fill="#0b0b0b"/><rect x="1290.7" y="265.0" width="31.3" height="6.2" fill="#0b0b0b"/><rect x="1303.8" y="251.9" width="5.0" height="16.2" fill="#0b0b0b"/>
<rect x="1367.5" y="161.5" width="32.0" height="6.2" fill="#0b0b0b"/><rect x="1367.5" y="184.4" width="32.0" height="6.2" fill="#0b0b0b"/><rect x="1380.9" y="164.6" width="5.0" height="22.9" fill="#0b0b0b"/>
<circle cx="1306.3" cy="221.0" r="4.5" fill="#0b0b0b"/>
<circle cx="1306.3" cy="237.1" r="4.5" fill="#0b0b0b"/>
<circle cx="1313.6" cy="282.9" r="4.5" fill="#0b0b0b"/>
<circle cx="1299.2" cy="289.6" r="4.5" fill="#0b0b0b"/>
<circle cx="1285.0" cy="257.5" r="4.5" fill="#0b0b0b"/>
<circle cx="1328.0" cy="257.5" r="4.5" fill="#0b0b0b"/>
<circle cx="1299.0" cy="262.0" r="4.5" fill="#0b0b0b"/>
<circle cx="1313.0" cy="262.0" r="4.5" fill="#0b0b0b"/>
<circle cx="1306.0" cy="256.0" r="4.5" fill="#0b0b0b"/>
<rect x="1378.7" y="130.7" width="9.4" height="9.4" fill="#0b0b0b"/>
<rect x="1392.3" y="142.9" width="9.4" height="9.4" fill="#0b0b0b"/>
<rect x="1364.5" y="150.6" width="9.4" height="9.4" fill="#0b0b0b"/>
<rect x="1378.7" y="155.3" width="9.4" height="9.4" fill="#0b0b0b"/>
<rect x="1371.1" y="190.0" width="9.4" height="9.4" fill="#0b0b0b"/>
<rect x="1385.5" y="202.8" width="9.4" height="9.4" fill="#0b0b0b"/>
<rect x="1378.7" y="223.6" width="9.4" height="9.4" fill="#0b0b0b"/>
<rect x="1378.7" y="171.4" width="9.4" height="9.4" fill="#0b0b0b"/>
<rect x="1378.7" y="165.3" width="9.4" height="9.4" fill="#0b0b0b"/>
<rect x="1306.3" y="94.5" width="77.3" height="4.4" fill="#0b0b0b"/>
<rect x="1610.6" y="74.7" width="4.6" height="241.6" fill="#0b0b0b"/>
<rect x="1604.1" y="311.5" width="165.7" height="5.0" fill="#0b0b0b"/>
<rect x="1604.1" y="74.9" width="8.8" height="4.2" fill="#0b0b0b"/>
<text x="1603.5" y="82.4" font-size="16.4" font-weight="bold" text-anchor="end" fill="#0b0b0b" stroke="#0b0b0b" stroke-width="0.35" transform="translate(64.14 0) scale(0.96 1)">1.2</text>
<rect x="1604.1" y="133.8" width="8.8" height="4.2" fill="#0b0b0b"/>
<text x="1603.5" y="141.3" font-size="16.4" font-weight="bold" text-anchor="end" fill="#0b0b0b" stroke="#0b0b0b" stroke-width="0.35" transform="translate(64.14 0) scale(0.96 1)">0.8</text>
<rect x="1604.1" y="193.0" width="8.8" height="4.2" fill="#0b0b0b"/>
<text x="1603.5" y="200.5" font-size="16.4" font-weight="bold" text-anchor="end" fill="#0b0b0b" stroke="#0b0b0b" stroke-width="0.35" transform="translate(64.14 0) scale(0.96 1)">0.4</text>
<rect x="1604.1" y="252.1" width="8.8" height="4.2" fill="#0b0b0b"/>
<text x="1603.5" y="259.6" font-size="16.4" font-weight="bold" text-anchor="end" fill="#0b0b0b" stroke="#0b0b0b" stroke-width="0.35" transform="translate(64.14 0) scale(0.96 1)">0.0</text>
<rect x="1604.1" y="311.2" width="8.8" height="4.2" fill="#0b0b0b"/>
<text x="1603.5" y="318.7" font-size="16.4" font-weight="bold" text-anchor="end" fill="#0b0b0b" stroke="#0b0b0b" stroke-width="0.35" transform="translate(64.14 0) scale(0.96 1)">-0.4</text>
<rect x="1649.1" y="314.0" width="4.2" height="8.8" fill="#0b0b0b"/>
<rect x="1725.5" y="314.0" width="4.2" height="8.8" fill="#0b0b0b"/>
<text x="1662.2" y="52.0" font-size="21.6" font-weight="bold" text-anchor="middle" fill="#0b0b0b" stroke="#0b0b0b" stroke-width="0.35">female</text>
<text x="1541.0" y="194.5" font-size="19.3" font-weight="bold" text-anchor="middle" fill="#0b0b0b" stroke="#0b0b0b" stroke-width="0.35" transform="rotate(-90 1541.0 194.5)">Social approach ratio</text>
<text x="1563.5" y="196.0" font-size="19.3" font-weight="bold" text-anchor="middle" fill="#0b0b0b" stroke="#0b0b0b" stroke-width="0.35" transform="rotate(-90 1563.5 196.0)">(S1-E/S1+E)</text>
<text x="1691.3" y="108.1" font-size="17" font-weight="bold" text-anchor="middle" fill="#0b0b0b" stroke="#0b0b0b" stroke-width="0.35" font-style="italic">n.s.</text>
<text x="1648.9" y="345.9" font-size="19.0" font-weight="bold" text-anchor="middle" fill="#0b0b0b" stroke="#0b0b0b" stroke-width="0.35" transform="translate(115.42 0) scale(0.93 1)">WT</text>
<text x="1701.5" y="345.9" font-size="19.0" font-weight="bold" text-anchor="start" fill="#0b0b0b" stroke="#0b0b0b" stroke-width="0.35" transform="translate(85.08 0) scale(0.95 1)">L35P<tspan font-size="12.9" dy="-5.1">+/-</tspan><tspan dy="5.1" font-size="19.0">​</tspan></text>
<text x="1514.5" y="36.6" font-size="37.5" font-weight="normal" text-anchor="start" fill="#0b0b0b" stroke="#0b0b0b" stroke-width="0.5">d</text>
<rect x="1634.8" y="170.2" width="32.6" height="6.2" fill="#0b0b0b"/><rect x="1634.8" y="179.9" width="32.6" height="6.2" fill="#0b0b0b"/><rect x="1648.7" y="173.3" width="5.0" height="9.7" fill="#0b0b0b"/>
<rect x="1712.5" y="177.7" width="31.3" height="6.2" fill="#0b0b0b"/><rect x="1712.5" y="202.2" width="31.3" height="6.2" fill="#0b0b0b"/><rect x="1725.7" y="180.8" width="5.0" height="24.5" fill="#0b0b0b"/>
<rect x="1623.4" y="175.7" width="55.7" height="4.8" fill="#0b0b0b"/>
<rect x="1700.4" y="190.4" width="55.4" height="4.8" fill="#0b0b0b"/>
<circle cx="1644.4" cy="162.2" r="4.5" fill="#0b0b0b"/>
<circle cx="1658.4" cy="161.4" r="4.5" fill="#0b0b0b"/>
<circle cx="1637.2" cy="172.5" r="4.5" fill="#0b0b0b"/>
<circle cx="1665.0" cy="171.7" r="4.5" fill="#0b0b0b"/>
<circle cx="1637.2" cy="190.0" r="4.5" fill="#0b0b0b"/>
<circle cx="1651.0" cy="194.5" r="4.5" fill="#0b0b0b"/>
<circle cx="1665.0" cy="190.8" r="4.5" fill="#0b0b0b"/>
<circle cx="1644.0" cy="178.0" r="4.5" fill="#0b0b0b"/>
<circle cx="1658.0" cy="178.0" r="4.5" fill="#0b0b0b"/>
<circle cx="1651.0" cy="181.0" r="4.5" fill="#0b0b0b"/>
<rect x="1716.3" y="148.4" width="9.4" height="9.4" fill="#0b0b0b"/>
<rect x="1730.3" y="144.8" width="9.4" height="9.4" fill="#0b0b0b"/>
<rect x="1716.3" y="173.4" width="9.4" height="9.4" fill="#0b0b0b"/>
<rect x="1736.7" y="177.4" width="9.4" height="9.4" fill="#0b0b0b"/>
<rect x="1723.5" y="218.8" width="9.4" height="9.4" fill="#0b0b0b"/>
<rect x="1723.5" y="256.2" width="9.4" height="9.4" fill="#0b0b0b"/>
<rect x="1716.3" y="199.3" width="9.4" height="9.4" fill="#0b0b0b"/>
<rect x="1730.3" y="199.3" width="9.4" height="9.4" fill="#0b0b0b"/>
<rect x="1723.3" y="188.1" width="9.4" height="9.4" fill="#0b0b0b"/>
<rect x="1649.9" y="111.5" width="78.0" height="4.4" fill="#0b0b0b"/>
<path d="M915.7,686.5V608.2H966.8V686.5" fill="none" stroke="#0b0b0b" stroke-width="6.4"/>
<path d="M992.7,686.5V518.7H1043.6V686.5" fill="none" stroke="#a3a3a6" stroke-width="6.4"/>
<rect x="900.3" y="447.0" width="4.6" height="241.8" fill="#0b0b0b"/>
<rect x="893.8" y="684.0" width="165.7" height="5.0" fill="#0b0b0b"/>
<rect x="893.8" y="447.9" width="8.8" height="4.2" fill="#0b0b0b"/>
<text x="893.2" y="455.9" font-size="17.8" font-weight="bold" text-anchor="end" fill="#0b0b0b" stroke="#0b0b0b" stroke-width="0.35" transform="translate(35.73 0) scale(0.96 1)">250</text>
<rect x="893.8" y="495.2" width="8.8" height="4.2" fill="#0b0b0b"/>
<text x="893.2" y="503.2" font-size="17.8" font-weight="bold" text-anchor="end" fill="#0b0b0b" stroke="#0b0b0b" stroke-width="0.35" transform="translate(35.73 0) scale(0.96 1)">200</text>
<rect x="893.8" y="542.5" width="8.8" height="4.2" fill="#0b0b0b"/>
<text x="893.2" y="550.5" font-size="17.8" font-weight="bold" text-anchor="end" fill="#0b0b0b" stroke="#0b0b0b" stroke-width="0.35" transform="translate(35.73 0) scale(0.96 1)">150</text>
<rect x="893.8" y="589.9" width="8.8" height="4.2" fill="#0b0b0b"/>
<text x="893.2" y="597.9" font-size="17.8" font-weight="bold" text-anchor="end" fill="#0b0b0b" stroke="#0b0b0b" stroke-width="0.35" transform="translate(35.73 0) scale(0.96 1)">100</text>
<rect x="893.8" y="637.2" width="8.8" height="4.2" fill="#0b0b0b"/>
<text x="893.2" y="645.2" font-size="17.8" font-weight="bold" text-anchor="end" fill="#0b0b0b" stroke="#0b0b0b" stroke-width="0.35" transform="translate(35.73 0) scale(0.96 1)">50</text>
<rect x="893.8" y="684.5" width="8.8" height="4.2" fill="#0b0b0b"/>
<text x="893.2" y="692.5" font-size="17.8" font-weight="bold" text-anchor="end" fill="#0b0b0b" stroke="#0b0b0b" stroke-width="0.35" transform="translate(35.73 0) scale(0.96 1)">0</text>
<rect x="939.2" y="686.5" width="4.2" height="8.8" fill="#0b0b0b"/>
<rect x="1015.9" y="686.5" width="4.2" height="8.8" fill="#0b0b0b"/>
<text x="978.1" y="421.3" font-size="22.3" font-weight="bold" text-anchor="middle" fill="#0b0b0b" stroke="#0b0b0b" stroke-width="0.35">Mef2c WT social novelty</text>
<text x="853.0" y="570.0" font-size="19.4" font-weight="bold" text-anchor="middle" fill="#0b0b0b" stroke="#0b0b0b" stroke-width="0.35" transform="rotate(-90 853.0 570.0)">Cumulative Duration (s)</text>
<text x="979.5" y="449.3" font-size="21.5" font-weight="bold" text-anchor="middle" fill="#0b0b0b" stroke="#0b0b0b" stroke-width="0.35">***</text>
<text x="930.3" y="717.6" font-size="19.0" font-weight="bold" text-anchor="middle" fill="#0b0b0b" stroke="#0b0b0b" stroke-width="0.35">familiar</text>
<text x="1018.8" y="717.6" font-size="19.0" font-weight="bold" text-anchor="middle" fill="#0b0b0b" stroke="#0b0b0b" stroke-width="0.35">stranger</text>
<text x="796.0" y="408.6" font-size="37.5" font-weight="normal" text-anchor="start" fill="#0b0b0b" stroke="#0b0b0b" stroke-width="0.5">e</text>
<rect x="925.0" y="599.4" width="32.5" height="6.2" fill="#0b0b0b"/><rect x="925.0" y="611.4" width="32.5" height="6.2" fill="#0b0b0b"/><rect x="938.8" y="602.5" width="5.0" height="12.0" fill="#0b0b0b"/>
<rect x="1002.0" y="505.2" width="31.8" height="6.2" fill="#0b0b0b"/><rect x="1002.0" y="526.2" width="31.8" height="6.2" fill="#0b0b0b"/><rect x="1015.5" y="508.3" width="5.0" height="21.0" fill="#0b0b0b"/>
<circle cx="927.0" cy="580.8" r="4.5" fill="#0b0b0b"/>
<circle cx="955.0" cy="590.0" r="4.5" fill="#0b0b0b"/>
<circle cx="941.3" cy="594.5" r="4.5" fill="#0b0b0b"/>
<circle cx="927.0" cy="622.0" r="4.5" fill="#0b0b0b"/>
<circle cx="955.0" cy="627.5" r="4.5" fill="#0b0b0b"/>
<circle cx="941.3" cy="633.0" r="4.5" fill="#0b0b0b"/>
<circle cx="934.0" cy="607.0" r="4.5" fill="#0b0b0b"/>
<circle cx="948.0" cy="609.0" r="4.5" fill="#0b0b0b"/>
<circle cx="941.0" cy="612.0" r="4.5" fill="#0b0b0b"/>
<rect x="999.6" y="478.3" width="9.4" height="9.4" fill="#0b0b0b"/>
<rect x="1027.3" y="477.1" width="9.4" height="9.4" fill="#0b0b0b"/>
<rect x="1013.3" y="491.1" width="9.4" height="9.4" fill="#0b0b0b"/>
<rect x="1013.3" y="512.3" width="9.4" height="9.4" fill="#0b0b0b"/>
<rect x="1006.6" y="517.8" width="9.4" height="9.4" fill="#0b0b0b"/>
<rect x="1027.3" y="533.3" width="9.4" height="9.4" fill="#0b0b0b"/>
<rect x="1020.3" y="542.3" width="9.4" height="9.4" fill="#0b0b0b"/>
<rect x="1006.6" y="555.3" width="9.4" height="9.4" fill="#0b0b0b"/>
<rect x="941.3" y="445.3" width="76.2" height="4.4" fill="#0b0b0b"/>
<path d="M1247.7,688.7V573.7H1298.1V688.7" fill="none" stroke="#0b0b0b" stroke-width="6.4"/>
<path d="M1324.5,688.7V539.5H1375.1V688.7" fill="none" stroke="#a3a3a6" stroke-width="6.4"/>
<rect x="1232.0" y="449.5" width="4.6" height="241.5" fill="#0b0b0b"/>
<rect x="1225.5" y="686.2" width="165.8" height="5.0" fill="#0b0b0b"/>
<rect x="1225.5" y="450.4" width="8.8" height="4.2" fill="#0b0b0b"/>
<text x="1224.9" y="458.4" font-size="17.8" font-weight="bold" text-anchor="end" fill="#0b0b0b" stroke="#0b0b0b" stroke-width="0.35" transform="translate(49.00 0) scale(0.96 1)">250</text>
<rect x="1225.5" y="497.7" width="8.8" height="4.2" fill="#0b0b0b"/>
<text x="1224.9" y="505.7" font-size="17.8" font-weight="bold" text-anchor="end" fill="#0b0b0b" stroke="#0b0b0b" stroke-width="0.35" transform="translate(49.00 0) scale(0.96 1)">200</text>
<rect x="1225.5" y="545.1" width="8.8" height="4.2" fill="#0b0b0b"/>
<text x="1224.9" y="553.1" font-size="17.8" font-weight="bold" text-anchor="end" fill="#0b0b0b" stroke="#0b0b0b" stroke-width="0.35" transform="translate(49.00 0) scale(0.96 1)">150</text>
<rect x="1225.5" y="592.5" width="8.8" height="4.2" fill="#0b0b0b"/>
<text x="1224.9" y="600.5" font-size="17.8" font-weight="bold" text-anchor="end" fill="#0b0b0b" stroke="#0b0b0b" stroke-width="0.35" transform="translate(49.00 0) scale(0.96 1)">100</text>
<rect x="1225.5" y="639.9" width="8.8" height="4.2" fill="#0b0b0b"/>
<text x="1224.9" y="647.9" font-size="17.8" font-weight="bold" text-anchor="end" fill="#0b0b0b" stroke="#0b0b0b" stroke-width="0.35" transform="translate(49.00 0) scale(0.96 1)">50</text>
<rect x="1225.5" y="687.2" width="8.8" height="4.2" fill="#0b0b0b"/>
<text x="1224.9" y="695.2" font-size="17.8" font-weight="bold" text-anchor="end" fill="#0b0b0b" stroke="#0b0b0b" stroke-width="0.35" transform="translate(49.00 0) scale(0.96 1)">0</text>
<rect x="1270.4" y="688.7" width="4.2" height="8.8" fill="#0b0b0b"/>
<rect x="1347.4" y="688.7" width="4.2" height="8.8" fill="#0b0b0b"/>
<text x="1185.0" y="421.3" font-size="22.3" font-weight="bold" text-anchor="start" fill="#0b0b0b" stroke="#0b0b0b" stroke-width="0.35">Mef2c L35P<tspan font-size="13.8" dy="-8.5">+/-</tspan><tspan dy="8.5" font-size="22.3">​</tspan> social novelty</text>
<text x="1185.0" y="570.0" font-size="19.4" font-weight="bold" text-anchor="middle" fill="#0b0b0b" stroke="#0b0b0b" stroke-width="0.35" transform="rotate(-90 1185.0 570.0)">Cumulative Duration (s)</text>
<text x="1313.0" y="446.3" font-size="17" font-weight="bold" text-anchor="middle" fill="#0b0b0b" stroke="#0b0b0b" stroke-width="0.35" font-style="italic">n.s.</text>
<text x="1268.8" y="717.6" font-size="19.0" font-weight="bold" text-anchor="middle" fill="#0b0b0b" stroke="#0b0b0b" stroke-width="0.35">familiar</text>
<text x="1357.5" y="717.6" font-size="19.0" font-weight="bold" text-anchor="middle" fill="#0b0b0b" stroke="#0b0b0b" stroke-width="0.35">stranger</text>
<text x="1140.6" y="421.6" font-size="37.5" font-weight="normal" text-anchor="start" fill="#0b0b0b" stroke="#0b0b0b" stroke-width="0.5">f</text>
<rect x="1256.3" y="557.9" width="32.5" height="6.2" fill="#0b0b0b"/><rect x="1256.3" y="583.4" width="32.5" height="6.2" fill="#0b0b0b"/><rect x="1270.0" y="561.0" width="5.0" height="25.5" fill="#0b0b0b"/>
<rect x="1333.0" y="518.4" width="32.5" height="6.2" fill="#0b0b0b"/><rect x="1333.0" y="553.9" width="32.5" height="6.2" fill="#0b0b0b"/><rect x="1347.0" y="521.5" width="5.0" height="35.5" fill="#0b0b0b"/>
<circle cx="1272.5" cy="515.0" r="4.5" fill="#0b0b0b"/>
<circle cx="1272.5" cy="532.0" r="4.5" fill="#0b0b0b"/>
<circle cx="1258.8" cy="565.5" r="4.5" fill="#0b0b0b"/>
<circle cx="1286.3" cy="578.8" r="4.5" fill="#0b0b0b"/>
<circle cx="1272.5" cy="596.3" r="4.5" fill="#0b0b0b"/>
<circle cx="1279.5" cy="609.5" r="4.5" fill="#0b0b0b"/>
<circle cx="1265.5" cy="619.5" r="4.5" fill="#0b0b0b"/>
<circle cx="1272.5" cy="573.0" r="4.5" fill="#0b0b0b"/>
<rect x="1344.8" y="473.3" width="9.4" height="9.4" fill="#0b0b0b"/>
<rect x="1330.8" y="495.3" width="9.4" height="9.4" fill="#0b0b0b"/>
<rect x="1358.6" y="499.1" width="9.4" height="9.4" fill="#0b0b0b"/>
<rect x="1344.8" y="504.1" width="9.4" height="9.4" fill="#0b0b0b"/>
<rect x="1344.8" y="541.6" width="9.4" height="9.4" fill="#0b0b0b"/>
<rect x="1344.8" y="565.8" width="9.4" height="9.4" fill="#0b0b0b"/>
<rect x="1344.8" y="591.6" width="9.4" height="9.4" fill="#0b0b0b"/>
<rect x="1344.8" y="610.3" width="9.4" height="9.4" fill="#0b0b0b"/>
<rect x="1272.0" y="449.8" width="77.5" height="4.4" fill="#0b0b0b"/>
<rect x="1608.9" y="448.8" width="4.6" height="241.5" fill="#0b0b0b"/>
<rect x="1602.4" y="685.5" width="166.1" height="5.0" fill="#0b0b0b"/>
<rect x="1602.4" y="449.7" width="8.8" height="4.2" fill="#0b0b0b"/>
<text x="1601.8" y="457.2" font-size="16.4" font-weight="bold" text-anchor="end" fill="#0b0b0b" stroke="#0b0b0b" stroke-width="0.35" transform="translate(64.07 0) scale(0.96 1)">0.8</text>
<rect x="1602.4" y="508.8" width="8.8" height="4.2" fill="#0b0b0b"/>
<text x="1601.8" y="516.3" font-size="16.4" font-weight="bold" text-anchor="end" fill="#0b0b0b" stroke="#0b0b0b" stroke-width="0.35" transform="translate(64.07 0) scale(0.96 1)">0.4</text>
<rect x="1602.4" y="567.9" width="8.8" height="4.2" fill="#0b0b0b"/>
<text x="1601.8" y="575.4" font-size="16.4" font-weight="bold" text-anchor="end" fill="#0b0b0b" stroke="#0b0b0b" stroke-width="0.35" transform="translate(64.07 0) scale(0.96 1)">0.0</text>
<rect x="1602.4" y="626.9" width="8.8" height="4.2" fill="#0b0b0b"/>
<text x="1601.8" y="634.4" font-size="16.4" font-weight="bold" text-anchor="end" fill="#0b0b0b" stroke="#0b0b0b" stroke-width="0.35" transform="translate(64.07 0) scale(0.96 1)">-0.4</text>
<rect x="1602.4" y="685.9" width="8.8" height="4.2" fill="#0b0b0b"/>
<text x="1601.8" y="693.4" font-size="16.4" font-weight="bold" text-anchor="end" fill="#0b0b0b" stroke="#0b0b0b" stroke-width="0.35" transform="translate(64.07 0) scale(0.96 1)">-0.8</text>
<rect x="1647.7" y="688.0" width="4.2" height="8.8" fill="#0b0b0b"/>
<rect x="1724.3" y="688.0" width="4.2" height="8.8" fill="#0b0b0b"/>
<text x="1666.7" y="421.3" font-size="22.0" font-weight="bold" text-anchor="middle" fill="#0b0b0b" stroke="#0b0b0b" stroke-width="0.35">female</text>
<text x="1537.0" y="569.4" font-size="19.4" font-weight="bold" text-anchor="middle" fill="#0b0b0b" stroke="#0b0b0b" stroke-width="0.35" transform="rotate(-90 1537.0 569.4)">Social novelty ratio</text>
<text x="1560.8" y="569.4" font-size="19.4" font-weight="bold" text-anchor="middle" fill="#0b0b0b" stroke="#0b0b0b" stroke-width="0.35" transform="rotate(-90 1560.8 569.4)">(S2-S1/S2+S1)</text>
<text x="1689.8" y="464.0" font-size="21.5" font-weight="bold" text-anchor="middle" fill="#0b0b0b" stroke="#0b0b0b" stroke-width="0.35">*</text>
<text x="1649.2" y="716.3" font-size="19.0" font-weight="bold" text-anchor="middle" fill="#0b0b0b" stroke="#0b0b0b" stroke-width="0.35" transform="translate(115.44 0) scale(0.93 1)">WT</text>
<text x="1701.5" y="716.3" font-size="19.0" font-weight="bold" text-anchor="start" fill="#0b0b0b" stroke="#0b0b0b" stroke-width="0.35" transform="translate(85.08 0) scale(0.95 1)">L35P<tspan font-size="12.9" dy="-5.1">+/-</tspan><tspan dy="5.1" font-size="19.0">​</tspan></text>
<text x="1511.5" y="415.6" font-size="37.5" font-weight="normal" text-anchor="start" fill="#0b0b0b" stroke="#0b0b0b" stroke-width="0.5">g</text>
<rect x="1634.0" y="506.9" width="31.3" height="6.2" fill="#0b0b0b"/><rect x="1634.0" y="519.9" width="31.3" height="6.2" fill="#0b0b0b"/><rect x="1647.3" y="510.0" width="5.0" height="13.0" fill="#0b0b0b"/>
<rect x="1710.3" y="533.7" width="32.5" height="6.2" fill="#0b0b0b"/><rect x="1710.3" y="564.9" width="32.5" height="6.2" fill="#0b0b0b"/><rect x="1724.0" y="536.8" width="5.0" height="31.2" fill="#0b0b0b"/>
<rect x="1622.0" y="513.4" width="55.8" height="4.8" fill="#0b0b0b"/>
<rect x="1699.0" y="550.1" width="55.8" height="4.8" fill="#0b0b0b"/>
<circle cx="1642.8" cy="495.0" r="4.5" fill="#0b0b0b"/>
<circle cx="1657.0" cy="496.3" r="4.5" fill="#0b0b0b"/>
<circle cx="1636.0" cy="503.8" r="4.5" fill="#0b0b0b"/>
<circle cx="1664.0" cy="504.5" r="4.5" fill="#0b0b0b"/>
<circle cx="1642.8" cy="529.5" r="4.5" fill="#0b0b0b"/>
<circle cx="1657.0" cy="533.0" r="4.5" fill="#0b0b0b"/>
<circle cx="1649.8" cy="549.5" r="4.5" fill="#0b0b0b"/>
<circle cx="1643.0" cy="516.0" r="4.5" fill="#0b0b0b"/>
<circle cx="1657.0" cy="516.0" r="4.5" fill="#0b0b0b"/>
<circle cx="1650.0" cy="520.0" r="4.5" fill="#0b0b0b"/>
<rect x="1708.1" y="504.6" width="9.4" height="9.4" fill="#0b0b0b"/>
<rect x="1729.3" y="498.3" width="9.4" height="9.4" fill="#0b0b0b"/>
<rect x="1715.1" y="518.3" width="9.4" height="9.4" fill="#0b0b0b"/>
<rect x="1729.3" y="525.3" width="9.4" height="9.4" fill="#0b0b0b"/>
<rect x="1721.8" y="546.6" width="9.4" height="9.4" fill="#0b0b0b"/>
<rect x="1715.1" y="578.3" width="9.4" height="9.4" fill="#0b0b0b"/>
<rect x="1729.3" y="585.3" width="9.4" height="9.4" fill="#0b0b0b"/>
<rect x="1721.8" y="624.6" width="9.4" height="9.4" fill="#0b0b0b"/>
<rect x="1651.5" y="463.1" width="77.0" height="4.4" fill="#0b0b0b"/>
<path d="M1099.5,1153.2V1057.7H1154.3V1153.2" fill="none" stroke="#0b0b0b" stroke-width="6.4"/>
<path d="M1181.2,1153.2V996.5H1236.1V1153.2" fill="none" stroke="#a3a3a6" stroke-width="6.4"/>
<rect x="1084.0" y="897.5" width="5.0" height="258.2" fill="#0b0b0b"/>
<rect x="1077.5" y="1150.5" width="175.0" height="5.4" fill="#0b0b0b"/>
<rect x="1077.5" y="898.5" width="9.0" height="4.6" fill="#0b0b0b"/>
<text x="1076.9" y="906.5" font-size="17.2" font-weight="bold" text-anchor="end" fill="#0b0b0b" stroke="#0b0b0b" stroke-width="0.35" transform="translate(0.00 0) scale(1.0 1)">100</text>
<rect x="1077.5" y="1024.7" width="9.0" height="4.6" fill="#0b0b0b"/>
<text x="1076.9" y="1032.7" font-size="17.2" font-weight="bold" text-anchor="end" fill="#0b0b0b" stroke="#0b0b0b" stroke-width="0.35" transform="translate(0.00 0) scale(1.0 1)">50</text>
<rect x="1077.5" y="1150.9" width="9.0" height="4.6" fill="#0b0b0b"/>
<text x="1076.9" y="1158.9" font-size="17.2" font-weight="bold" text-anchor="end" fill="#0b0b0b" stroke="#0b0b0b" stroke-width="0.35" transform="translate(0.00 0) scale(1.0 1)">0</text>
<rect x="1124.7" y="1153.2" width="4.6" height="9.0" fill="#0b0b0b"/>
<rect x="1205.7" y="1153.2" width="4.6" height="9.0" fill="#0b0b0b"/>
<text x="1167.5" y="840.0" font-size="23.4" font-weight="bold" text-anchor="middle" fill="#0b0b0b" stroke="#0b0b0b" stroke-width="0.35">Mef2c WT</text>
<text x="1037.3" y="1028.0" font-size="20.5" font-weight="bold" text-anchor="middle" fill="#0b0b0b" stroke="#0b0b0b" stroke-width="0.35" transform="rotate(-90 1037.3 1028.0)">Cumulative Duration (s)</text>
<text x="1168.3" y="895.6" font-size="21.5" font-weight="bold" text-anchor="middle" fill="#0b0b0b" stroke="#0b0b0b" stroke-width="0.35">**</text>
<text x="1162.8" y="1179.8" font-size="18.5" font-weight="bold" text-anchor="end" fill="#0b0b0b" stroke="#0b0b0b" stroke-width="0.35" transform="rotate(-45 1162.8 1179.8)">Familiar Object</text>
<text x="1244.2" y="1179.4" font-size="18.5" font-weight="bold" text-anchor="end" fill="#0b0b0b" stroke="#0b0b0b" stroke-width="0.35" transform="rotate(-45 1244.2 1179.4)">Strange Object</text>
<text x="1005.0" y="809.5" font-size="37.5" font-weight="normal" text-anchor="start" fill="#0b0b0b" stroke="#0b0b0b" stroke-width="0.5">i</text>
<rect x="1110.0" y="1045.7" width="33.8" height="6.2" fill="#0b0b0b"/><rect x="1110.0" y="1065.2" width="33.8" height="6.2" fill="#0b0b0b"/><rect x="1124.5" y="1048.8" width="5.0" height="19.5" fill="#0b0b0b"/>
<rect x="1192.0" y="977.4" width="33.0" height="6.2" fill="#0b0b0b"/><rect x="1192.0" y="1009.9" width="33.0" height="6.2" fill="#0b0b0b"/><rect x="1206.0" y="980.5" width="5.0" height="32.5" fill="#0b0b0b"/>
<circle cx="1112.5" cy="1023.8" r="4.9" fill="#0b0b0b"/>
<circle cx="1127.0" cy="1035.0" r="4.9" fill="#0b0b0b"/>
<circle cx="1142.0" cy="1032.0" r="4.9" fill="#0b0b0b"/>
<circle cx="1112.5" cy="1085.5" r="4.9" fill="#0b0b0b"/>
<circle cx="1142.0" cy="1088.0" r="4.9" fill="#0b0b0b"/>
<circle cx="1127.0" cy="1097.5" r="4.9" fill="#0b0b0b"/>
<circle cx="1120.0" cy="1052.0" r="4.9" fill="#0b0b0b"/>
<circle cx="1134.0" cy="1056.0" r="4.9" fill="#0b0b0b"/>
<rect x="1203.6" y="914.4" width="9.8" height="9.8" fill="#0b0b0b"/>
<rect x="1203.6" y="955.1" width="9.8" height="9.8" fill="#0b0b0b"/>
<rect x="1217.6" y="990.1" width="9.8" height="9.8" fill="#0b0b0b"/>
<rect x="1210.6" y="995.1" width="9.8" height="9.8" fill="#0b0b0b"/>
<rect x="1196.1" y="1008.9" width="9.8" height="9.8" fill="#0b0b0b"/>
<rect x="1203.6" y="1027.6" width="9.8" height="9.8" fill="#0b0b0b"/>
<rect x="1203.6" y="1065.9" width="9.8" height="9.8" fill="#0b0b0b"/>
<rect x="1128.0" y="893.0" width="80.8" height="4.4" fill="#0b0b0b"/>
<path d="M1452.7,1150.6V1072.7H1507.6V1150.6" fill="none" stroke="#0b0b0b" stroke-width="6.4"/>
<path d="M1534.2,1150.6V1044.0H1588.8V1150.6" fill="none" stroke="#a3a3a6" stroke-width="6.4"/>
<rect x="1437.5" y="895.5" width="5.0" height="257.6" fill="#0b0b0b"/>
<rect x="1431.0" y="1147.9" width="174.3" height="5.4" fill="#0b0b0b"/>
<rect x="1431.0" y="896.0" width="9.0" height="4.6" fill="#0b0b0b"/>
<text x="1430.4" y="904.0" font-size="17.2" font-weight="bold" text-anchor="end" fill="#0b0b0b" stroke="#0b0b0b" stroke-width="0.35" transform="translate(0.00 0) scale(1.0 1)">150</text>
<rect x="1431.0" y="980.1" width="9.0" height="4.6" fill="#0b0b0b"/>
<text x="1430.4" y="988.1" font-size="17.2" font-weight="bold" text-anchor="end" fill="#0b0b0b" stroke="#0b0b0b" stroke-width="0.35" transform="translate(0.00 0) scale(1.0 1)">100</text>
<rect x="1431.0" y="1064.2" width="9.0" height="4.6" fill="#0b0b0b"/>
<text x="1430.4" y="1072.2" font-size="17.2" font-weight="bold" text-anchor="end" fill="#0b0b0b" stroke="#0b0b0b" stroke-width="0.35" transform="translate(0.00 0) scale(1.0 1)">50</text>
<rect x="1431.0" y="1148.3" width="9.0" height="4.6" fill="#0b0b0b"/>
<text x="1430.4" y="1156.3" font-size="17.2" font-weight="bold" text-anchor="end" fill="#0b0b0b" stroke="#0b0b0b" stroke-width="0.35" transform="translate(0.00 0) scale(1.0 1)">0</text>
<rect x="1477.5" y="1150.6" width="4.6" height="9.0" fill="#0b0b0b"/>
<rect x="1559.2" y="1150.6" width="4.6" height="9.0" fill="#0b0b0b"/>
<text x="1436.5" y="835.0" font-size="23.4" font-weight="bold" text-anchor="start" fill="#0b0b0b" stroke="#0b0b0b" stroke-width="0.35">Mef2c L35P<tspan font-size="14.5" dy="-8.9">+/-</tspan><tspan dy="8.9" font-size="23.4">​</tspan></text>
<text x="1388.4" y="1022.5" font-size="20.5" font-weight="bold" text-anchor="middle" fill="#0b0b0b" stroke="#0b0b0b" stroke-width="0.35" transform="rotate(-90 1388.4 1022.5)">Cumulative Duration (s)</text>
<text x="1523.0" y="918.8" font-size="17" font-weight="bold" text-anchor="middle" fill="#0b0b0b" stroke="#0b0b0b" stroke-width="0.35" font-style="italic">n.s.</text>
<text x="1509.2" y="1176.8" font-size="18.5" font-weight="bold" text-anchor="end" fill="#0b0b0b" stroke="#0b0b0b" stroke-width="0.35" transform="rotate(-45 1509.2 1176.8)">Familiar Object</text>
<text x="1590.4" y="1176.2" font-size="18.5" font-weight="bold" text-anchor="end" fill="#0b0b0b" stroke="#0b0b0b" stroke-width="0.35" transform="rotate(-45 1590.4 1176.2)">Strange Object</text>
<text x="1361.0" y="806.0" font-size="37.5" font-weight="normal" text-anchor="start" fill="#0b0b0b" stroke="#0b0b0b" stroke-width="0.5">j</text>
<rect x="1463.5" y="1058.7" width="33.5" height="6.2" fill="#0b0b0b"/><rect x="1463.5" y="1079.4" width="33.5" height="6.2" fill="#0b0b0b"/><rect x="1477.8" y="1061.8" width="5.0" height="20.7" fill="#0b0b0b"/>
<rect x="1544.5" y="1027.4" width="34.0" height="6.2" fill="#0b0b0b"/><rect x="1544.5" y="1054.9" width="34.0" height="6.2" fill="#0b0b0b"/><rect x="1559.0" y="1030.5" width="5.0" height="27.5" fill="#0b0b0b"/>
<circle cx="1472.8" cy="1023.0" r="4.9" fill="#0b0b0b"/>
<circle cx="1487.3" cy="1025.8" r="4.9" fill="#0b0b0b"/>
<circle cx="1459.0" cy="1078.8" r="4.9" fill="#0b0b0b"/>
<circle cx="1501.5" cy="1086.3" r="4.9" fill="#0b0b0b"/>
<circle cx="1472.8" cy="1092.5" r="4.9" fill="#0b0b0b"/>
<circle cx="1487.3" cy="1095.0" r="4.9" fill="#0b0b0b"/>
<circle cx="1480.3" cy="1110.0" r="4.9" fill="#0b0b0b"/>
<rect x="1556.6" y="959.4" width="9.8" height="9.8" fill="#0b0b0b"/>
<rect x="1577.1" y="1030.1" width="9.8" height="9.8" fill="#0b0b0b"/>
<rect x="1536.1" y="1039.4" width="9.8" height="9.8" fill="#0b0b0b"/>
<rect x="1563.6" y="1040.1" width="9.8" height="9.8" fill="#0b0b0b"/>
<rect x="1549.1" y="1046.1" width="9.8" height="9.8" fill="#0b0b0b"/>
<rect x="1563.6" y="1060.1" width="9.8" height="9.8" fill="#0b0b0b"/>
<rect x="1556.6" y="1097.1" width="9.8" height="9.8" fill="#0b0b0b"/>
<rect x="1556.1" y="1037.1" width="9.8" height="9.8" fill="#0b0b0b"/>
<rect x="1480.3" y="923.2" width="81.2" height="4.4" fill="#0b0b0b"/>
</svg>
</body></html>
